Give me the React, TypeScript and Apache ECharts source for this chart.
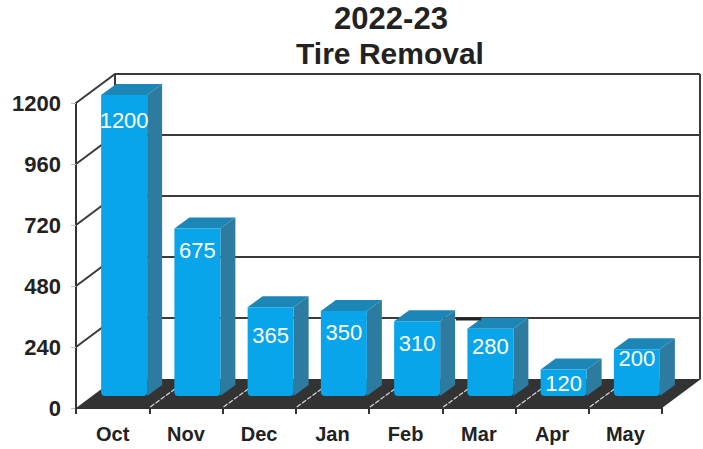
import React, { useEffect, useRef } from "react";
import * as echarts from "echarts";

const titleLines = ["2022-23", "Tire Removal"];
const months = ["Oct", "Nov", "Dec", "Jan", "Feb", "Mar", "Apr", "May"];
const removals = [1200, 675, 365, 350, 310, 280, 120, 200];
const yTicks = [0, 240, 480, 720, 960, 1200];

const labelDrop = [25, 22, 28, 21, 22, 18, 14, 9];
const FONT = '"Liberation Sans", Arial, sans-serif';
const DARK = "#333333";
const WALL_DX = 39;
const WALL_DY = 29;
const BAR_W = 46;
const BAR_DX = 15;
const BAR_DY = 11;

export default function App() {
  const ref = useRef<HTMLDivElement>(null);
  useEffect(() => {
    const chart = echarts.init(ref.current!, null, { renderer: "svg" });
    const line = { stroke: "#3a3a3a", lineWidth: 2, fill: "none" };

    const option: any = {
      animation: false,
      backgroundColor: "#ffffff",
      title: [
        { text: titleLines[0], left: 388, top: 0, padding: 3, textAlign: "center",
          textStyle: { fontFamily: FONT, fontSize: 31, fontWeight: "bold", color: "#222" } },
        { text: titleLines[1], left: 385, top: 33, textAlign: "center",
          textStyle: { fontFamily: FONT, fontSize: 30, fontWeight: "bold", color: "#222" } },
      ],
      grid: [
        { left: 76, top: 103, width: 586, height: 305 },
        { left: 87.5, top: 95, width: 586, height: 305 },
      ],
      xAxis: [
        {
          type: "category", data: months, gridIndex: 0,
          axisLine: { lineStyle: { color: DARK, width: 2 } },
          axisTick: { show: true, length: 6, alignWithLabel: false, lineStyle: { color: DARK, width: 2 } },
          axisLabel: { fontFamily: FONT, fontSize: 20, fontWeight: "bold", color: "#222", margin: 16, interval: 0 },
          splitLine: { show: false },
        },
        { type: "category", data: months, gridIndex: 1, show: false },
      ],
      yAxis: [
        {
          type: "value", min: 0, max: 1200, interval: 240, gridIndex: 0,
          axisLine: { show: true, lineStyle: { color: DARK, width: 2 } },
          axisTick: { show: true, length: 5, lineStyle: { color: "#bbbbbb", width: 1 } },
          axisLabel: { fontFamily: FONT, fontSize: 22, fontWeight: "bold", color: "#222", margin: 15,
            formatter: (v: number) => String(v) },
          splitLine: { show: false },
        },
        { type: "value", min: 0, max: 1200, interval: 240, gridIndex: 1, show: false },
      ],
      series: [
        {
          type: "custom", xAxisIndex: 0, yAxisIndex: 0, z: 1, silent: true,
          data: yTicks.map((t) => [0, t]),
          renderItem: (_: any, api: any) => {
            const y = api.coord([0, api.value(1)])[1];
            const x0 = 76;
            const x1 = x0 + WALL_DX;
            const x2 = 662 + WALL_DX - 1;
            const isFloor = api.value(1) === 0;
            const kids: any[] = [];
            if (!isFloor) {
              kids.push({
                type: "polyline",
                shape: { points: [[x0, y], [x1, y - WALL_DY], [x2, y - WALL_DY]] },
                style: line,
              });
            }
            if (api.value(1) === 1200) {
              kids.push({
                type: "line",
                shape: { x1: x1, y1: y - WALL_DY, x2: x1, y2: y - WALL_DY + 305 },
                style: line,
              });
              kids.push({
                type: "line",
                shape: { x1: x2, y1: y - WALL_DY, x2: x2, y2: y - WALL_DY + 305 },
                style: line,
              });
            }
            return { type: "group", children: kids };
          },
        },
        {
          type: "custom", xAxisIndex: 0, yAxisIndex: 0, z: 2, silent: true,
          data: [[0, 0]],
          renderItem: (_: any, api: any) => {
            const y = api.coord([0, 0])[1];
            return {
              type: "polygon",
              shape: { points: [[76, y], [662, y], [662 + WALL_DX, y - WALL_DY], [76 + WALL_DX, y - WALL_DY]] },
              style: { fill: "#333333" },
            };
          },
        },
        {
          type: "custom", xAxisIndex: 0, yAxisIndex: 0, z: 3, silent: true,
          data: months.slice(1).map((_, i) => [i + 1, 0]),
          renderItem: (_: any, api: any) => {
            const band = api.size([1, 0])[0];
            const p = api.coord([api.value(0), 0]);
            const x = p[0] - band / 2 + 1;
            return {
              type: "line",
              shape: { x1: x, y1: p[1] - 1, x2: x + 26, y2: p[1] - 20 },
              style: { stroke: "#d8d8d8", lineWidth: 1.2, lineDash: [5, 1.5] },
            };
          },
        },
        {
          type: "custom", xAxisIndex: 1, yAxisIndex: 1, z: 4, silent: true,
          data: removals.map((v, i) => [i, v]),
          renderItem: (params: any, api: any) => {
            const top = api.coord([api.value(0), api.value(1)]);
            const base = api.coord([api.value(0), 0]);
            const left = top[0] - BAR_W / 2;
            const bottom = base[1] - 4;
            const right = left + BAR_W;
            return {
              type: "group",
              children: [
                {
                  type: "polygon",
                  shape: { points: [[right, top[1]], [right + BAR_DX, top[1] - BAR_DY], [right + BAR_DX, bottom - BAR_DY], [right, bottom]] },
                  style: { fill: "#2e7ba0" },
                },
                {
                  type: "polygon",
                  shape: { points: [[left, top[1]], [left + BAR_DX, top[1] - BAR_DY], [right + BAR_DX, top[1] - BAR_DY], [right, top[1]]] },
                  style: { fill: "#1c87b6" },
                },
                {
                  type: "rect",
                  shape: { x: left, y: top[1], width: BAR_W, height: bottom - top[1], r: [0, 0, 4, 4] },
                  style: { fill: "#09a5ea" },
                },
                {
                  type: "text",
                  style: {
                    text: String(api.value(1)),
                    x: top[0],
                    y: top[1] + labelDrop[params.dataIndex],
                    align: "center",
                    verticalAlign: "middle",
                    fill: "#ffffff",
                    font: `22px ${FONT}`,
                  },
                },
              ],
            };
          },
        },
      ],
      graphic: [
        {
          type: "line", z: 5,
          shape: { x1: 456, y1: 319, x2: 481, y2: 319 },
          style: { stroke: "#222", lineWidth: 3 },
        },
      ],
    };
    chart.setOption(option);
    return () => chart.dispose();
  }, []);
  return <div ref={ref} style={{ position: "absolute", left: 0, top: 0, width: 703, height: 449 }} />;
}
